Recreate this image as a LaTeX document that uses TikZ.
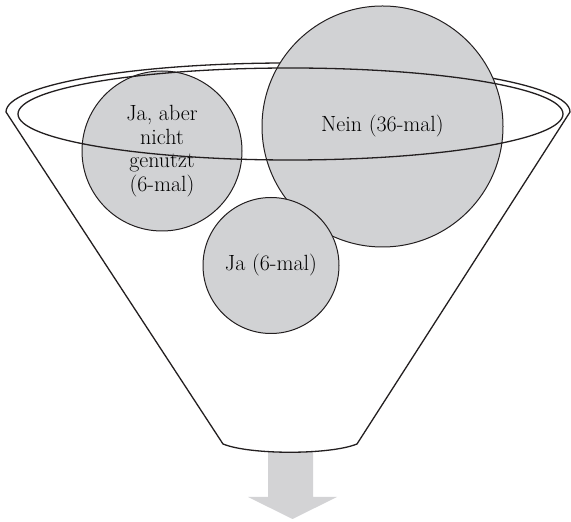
\documentclass[tikz,border=0pt]{standalone}
\definecolor{bubblegray}{RGB}{209,210,212}
\definecolor{arrowgray}{RGB}{211,211,213}
\definecolor{inkline}{RGB}{35,31,32}
\tikzset{
    bubble/.style={circle, draw=inkline, line width=1pt, fill=bubblegray, inner sep=0pt, align=center,
        font=\fontsize{22}{23.5}\selectfont},
    rim/.style={draw=inkline, line width=1.3pt}
}

\begin{document}
\begin{tikzpicture}[x=1pt, y=1pt]
    \useasboundingbox (0,0) rectangle (571,522);
    % arrow below the funnel
    \fill[arrowgray] (268,70) -- (313,70) -- (313,25) -- (337,25) -- (292.5,3) -- (248,25) -- (268,25) -- cycle;
    % funnel body
    \draw[rim, fill=white] (6,410) arc[start angle=180, end angle=0, x radius=282, y radius=49]
        -- (357,78) .. controls (330,67) and (250,67) .. (223,78) -- cycle;
    % bubbles
    \node[bubble, minimum size=241pt] (nein) at (382.5,395.5) {Nein (36-mal)};
    \node[bubble, minimum size=160pt] (jaaber) at (162,371) {Ja, aber\\nicht\\genutzt\\(6-mal)};
    \node[bubble, minimum size=136pt] (ja) at (271,256.5) {Ja (6-mal)};
    % inner rim in front
    \draw[rim] (290.5,408) ellipse[x radius=272.5, y radius=46];
\end{tikzpicture}
\end{document}
